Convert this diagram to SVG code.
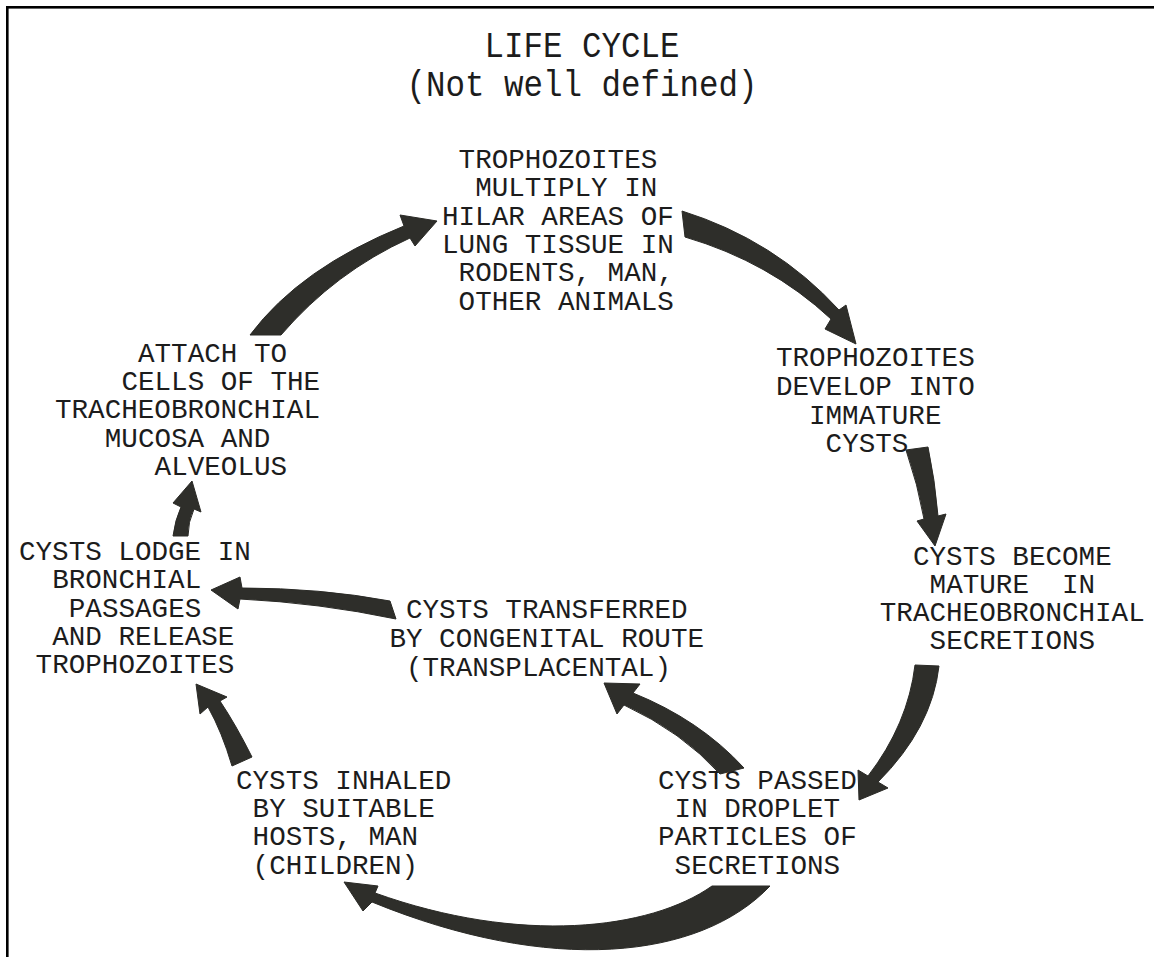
<svg xmlns="http://www.w3.org/2000/svg" width="1154" height="957" viewBox="0 0 1154 957">
<style>
.t{font-family:"Liberation Mono","DejaVu Sans Mono",monospace;font-size:27.6px;fill:#1c1c1c;white-space:pre}
.h{font-family:"Liberation Mono","DejaVu Sans Mono",monospace;font-size:32.5px;fill:#1c1c1c;text-anchor:middle;white-space:pre}
.a{fill:#2e2e2a;stroke:#2a2a26;stroke-width:1;stroke-linejoin:round}
</style>
<rect x="0" y="0" width="1154" height="957" fill="#ffffff"/>
<rect x="6" y="6" width="1148" height="2.6" fill="#000"/>
<rect x="6" y="6" width="2.6" height="951" fill="#000"/>
<g id="title">
<text class="h" transform="translate(582,57) scale(1,1.15)">LIFE CYCLE</text>
<text class="h" transform="translate(582,96) scale(1,1.15)">(Not well defined)</text>
</g>
<g id="n-multiply">
<text class="t" x="458.6" y="168">TROPHOZOITES</text>
<text class="t" x="475.2" y="196">MULTIPLY IN</text>
<text class="t" x="442" y="225">HILAR AREAS OF</text>
<text class="t" x="442" y="253">LUNG TISSUE IN</text>
<text class="t" x="458.6" y="281">RODENTS, MAN,</text>
<text class="t" x="458.6" y="310">OTHER ANIMALS</text>
</g>
<g id="n-develop">
<text class="t" x="776" y="366">TROPHOZOITES</text>
<text class="t" x="776" y="395">DEVELOP INTO</text>
<text class="t" x="809" y="424">IMMATURE</text>
<text class="t" x="825.6" y="452">CYSTS</text>
</g>
<g id="n-mature">
<text class="t" x="913" y="565">CYSTS BECOME</text>
<text class="t" x="929.6" y="593">MATURE  IN</text>
<text class="t" x="879.8" y="621">TRACHEOBRONCHIAL</text>
<text class="t" x="929.6" y="649">SECRETIONS</text>
</g>
<g id="n-passed">
<text class="t" x="658" y="789">CYSTS PASSED</text>
<text class="t" x="674.6" y="817">IN DROPLET</text>
<text class="t" x="658" y="845">PARTICLES OF</text>
<text class="t" x="674.6" y="874">SECRETIONS</text>
</g>
<g id="n-inhaled">
<text class="t" x="236" y="789">CYSTS INHALED</text>
<text class="t" x="252.6" y="817">BY SUITABLE</text>
<text class="t" x="252.6" y="845">HOSTS, MAN</text>
<text class="t" x="252.6" y="874">(CHILDREN)</text>
</g>
<g id="n-transferred">
<text class="t" x="406" y="618">CYSTS TRANSFERRED</text>
<text class="t" x="389.4" y="647">BY CONGENITAL ROUTE</text>
<text class="t" x="406" y="676">(TRANSPLACENTAL)</text>
</g>
<g id="n-lodge">
<text class="t" x="19" y="560">CYSTS LODGE IN</text>
<text class="t" x="52.2" y="588">BRONCHIAL</text>
<text class="t" x="68.8" y="617">PASSAGES</text>
<text class="t" x="52.2" y="645">AND RELEASE</text>
<text class="t" x="35.6" y="673">TROPHOZOITES</text>
</g>
<g id="n-attach">
<text class="t" x="138" y="362">ATTACH TO</text>
<text class="t" x="121.4" y="390">CELLS OF THE</text>
<text class="t" x="55" y="418">TRACHEOBRONCHIAL</text>
<text class="t" x="104.8" y="447">MUCOSA AND</text>
<text class="t" x="154.6" y="475">ALVEOLUS</text>
</g>
<g id="connectors">
<path class="a" d="M250,335 Q300,268 404,226 L400,215 L437,221 L415,246 L410,238 Q335,272 281,335 Z"/>
<path class="a" d="M682,211 Q775,240 839,310 L846,305 L856,344 L825,329 L831,319 Q770,262 685,237 Z"/>
<path class="a" d="M906,450 L928,447 Q935,480 938,516 L946,514 L935,546 L917,521 L924,519 Q918,485 906,450 Z"/>
<path class="a" d="M915,665 L939,666 Q932,728 878,782 L888,788 L859,800 L858,770 L868,776 Q908,724 915,665 Z"/>
<path class="a" d="M770,886 C700,960 550,975 372,902 L363,911 L344,882 L378,886 L375,893 C520,945 650,930 712,886 Z"/>
<path class="a" d="M744,768 Q700,720 633,693 L640,684 L604,683 L617,714 L624,705 Q682,732 720,774 Z"/>
<path class="a" d="M390,601 Q320,588 242,588 L240,577 L211,590 L238,609 L240,599 Q320,603 396,619 Z"/>
<path class="a" d="M173,536 Q175,520 181,507 L173,503 L192,481 L201,512 L194,509 Q188,522 188,536 Z"/>
<path class="a" d="M252,757 Q236,725 220,701 L227,697 L196,684 L200,714 L208,707 Q222,732 232,766 Z"/>
</g>
</svg>
